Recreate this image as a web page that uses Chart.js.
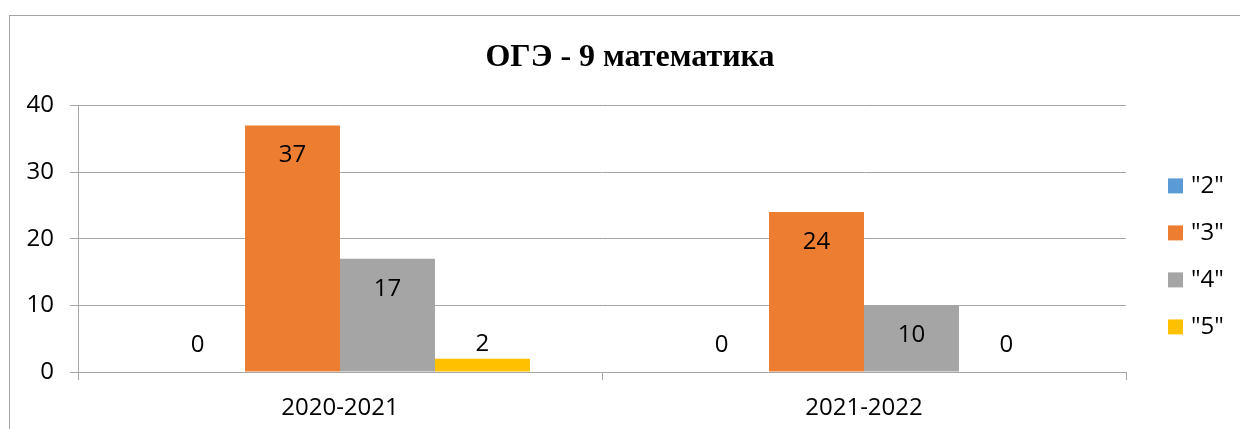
<!DOCTYPE html>
<html>
<head>
<meta charset="utf-8">
<script src="https://cdn.jsdelivr.net/npm/chart.js@4"></script>
<style>
    html, body { margin: 0; padding: 0; background: #fff; overflow: hidden; }
    #frame {
        position: absolute; left: 9px; top: 15px;
        width: 1260px; height: 440px;
        border: 1px solid #a3a3a3;
        overflow: hidden;
    }
    #chart { display: block; }
</style>
</head>
<body>
<div id="frame"><canvas id="chart" width="1240" height="413"></canvas></div>
<script>
const years = ['2020-2021', '2021-2022'];
const marks = ['"2"', '"3"', '"4"', '"5"'];
const mark2 = [0, 0];
const mark3 = [37, 24];
const mark4 = [17, 10];
const mark5 = [2, 0];
const yTicks = [0, 10, 20, 30, 40];

const colors = ['#5b9bd5', '#ed7d31', '#a5a5a5', '#ffc000'];
const font = "'Open Sans', 'Noto Sans', sans-serif";

// labels on the bars (inside near top, above when the bar is short)
const barLabels = {
    id: 'barLabels',
    afterDatasetsDraw(chart) {
        const ctx = chart.ctx;
        ctx.save();
        ctx.font = '24px ' + font;
        ctx.fillStyle = '#000';
        ctx.textAlign = 'center';
        ctx.textBaseline = 'middle';
        chart.data.datasets.forEach((ds, i) => {
            chart.getDatasetMeta(i).data.forEach((bar, j) => {
                const h = bar.base - bar.y;
                const y = h > 40 ? bar.y + 30 : Math.min(bar.y - 14, bar.base - 27);
                ctx.fillText(String(ds.data[j]), bar.x, y);
            });
        });
        ctx.restore();
    }
};

// legend on the right
const sideLegend = {
    id: 'sideLegend',
    afterDraw(chart) {
        const ctx = chart.ctx;
        const area = chart.chartArea;
        ctx.save();
        ctx.font = '24px ' + font;
        ctx.textBaseline = 'middle';
        chart.data.datasets.forEach((ds, i) => {
            const x = area.right + 42;
            const y = area.top + 80 + i * 47;
            ctx.fillStyle = ds.backgroundColor;
            ctx.fillRect(x, y - 7, 15, 15);
            ctx.fillStyle = '#000';
            ctx.fillText(ds.label, x + 23, y + 1);
        });
        ctx.restore();
    }
};

const seriesData = [mark2, mark3, mark4, mark5];

new Chart(document.getElementById('chart').getContext('2d'), {
    type: 'bar',
    data: {
        labels: years,
        datasets: marks.map((m, i) => ({
            label: m,
            data: seriesData[i],
            backgroundColor: colors[i],
            borderWidth: 0,
            barPercentage: 1,
            categoryPercentage: 0.725
        }))
    },
    options: {
        responsive: false,
        animation: false,
        scales: {
            x: {
                grid: { drawOnChartArea: false, drawTicks: true, tickLength: 8, color: '#a6a6a6', offset: true },
                border: { color: '#a6a6a6' },
                ticks: { color: '#000', font: { family: font, size: 24 }, padding: 14 },
                afterFit(scale) { scale.height = 57; }
            },
            y: {
                min: 0,
                max: 40,
                afterBuildTicks(scale) { scale.ticks = yTicks.map(v => ({ value: v })); },
                grid: { color: '#a6a6a6', tickLength: 8 },
                border: { color: '#a6a6a6' },
                ticks: { color: '#000', font: { family: font, size: 24 }, padding: 16 },
                afterFit(scale) { scale.width = 68; }
            },
            // empty right-hand axis, keeps room for the legend
            side: {
                position: 'right',
                grid: { display: false },
                border: { display: false },
                ticks: { display: false },
                afterFit(scale) { scale.width = 124; }
            }
        },
        plugins: {
            legend: { display: false },
            tooltip: { enabled: false },
            title: {
                display: true,
                text: 'ОГЭ - 9 математика',
                color: '#000',
                font: { family: "'Liberation Serif', 'DejaVu Serif', serif", size: 32, weight: 'bold' },
                padding: { top: 23, bottom: 28 }
            }
        }
    },
    plugins: [barLabels, sideLegend]
});
</script>
</body>
</html>
